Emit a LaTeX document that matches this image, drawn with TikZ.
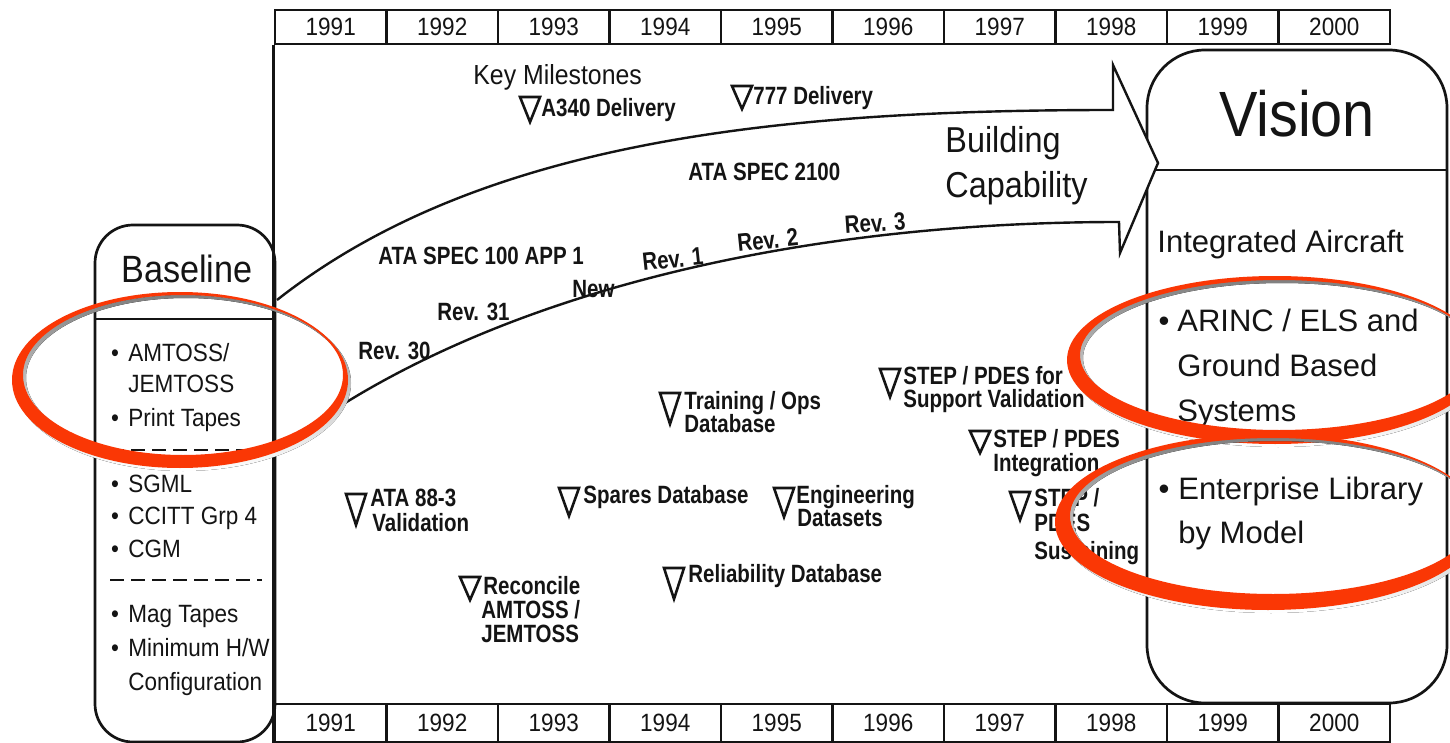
\documentclass[tikz,border=0pt]{standalone}
\usepackage{fontspec}
\setmainfont{Liberation Sans}
\newfontfamily\condA[FakeStretch=0.9]{Liberation Sans}
\newfontfamily\condB[FakeStretch=0.82]{Liberation Sans}
\definecolor{ink}{RGB}{20,20,20}
\definecolor{annot}{RGB}{250,55,5}
\definecolor{shade}{RGB}{175,175,175}
\newcommand\mtri[3]{\draw[tri] (#1-10,#2) -- (#1+10,#2) -- (#1,#2+#3) -- cycle;}
\begin{document}
\begin{tikzpicture}[x=0.5pt,y=-0.5pt,
  frame/.style={draw=ink, line width=1.35pt},
  yearcell/.style={draw=ink, line width=1.2pt, minimum width=55.75pt, inner sep=0pt, text=ink, font=\condA\fontsize{12.5}{14}\selectfont},
  lab/.style={anchor=base west, inner sep=0pt, text=ink, font=\condB\bfseries\fontsize{12.5}{14}\selectfont},
  basetxt/.style={anchor=base west, inner sep=0pt, text=ink, font=\condA\fontsize{12.5}{14}\selectfont},
  vistxt/.style={anchor=base west, inner sep=0pt, text=ink, font=\fontsize{15.5}{18}\selectfont},
  tri/.style={draw=ink, line width=1.3pt, line join=miter},
  sep/.style={draw=ink, line width=1pt, dash pattern=on 7pt off 3.5pt},
  arrowline/.style={draw=ink, line width=1.2pt, line join=miter},
]
\useasboundingbox (0,0) rectangle (1450,743);
\fill[white] (0,0) rectangle (1450,743);

% year bars
\foreach \yr [count=\i from 0] in {1991,...,2000} {
  \node[yearcell, minimum height=17pt] (top\yr) at (330.75+111.5*\i, 27) {\yr};
  \node[yearcell, minimum height=19pt] (bot\yr) at (330.75+111.5*\i, 723) {\yr};
}
% main frame left edge
\draw[frame] (top1991.south west) -- (bot1991.south west);

% baseline box
\node[frame, rounded corners=19pt, minimum width=90pt, minimum height=258.5pt, inner sep=0pt] (basebox) at (185,483.5) {};
\draw[frame] (95,319) -- (275,319);
\draw[sep] (110,450) -- (262,450);
\draw[sep] (110,580) -- (262,580);
\node[anchor=base, inner sep=0pt, text=ink, font=\condA\fontsize{19}{22}\selectfont] (basetitle) at (187,282) {Baseline};
\node[basetxt, anchor=base] (bb1) at (115,361) {•};
\node[basetxt] (bt1) at (128,361) {AMTOSS/};
\node[basetxt] (bt2) at (128,392) {JEMTOSS};
\node[basetxt, anchor=base] (bb3) at (115,426) {•};
\node[basetxt] (bt3) at (128,426) {Print Tapes};
\node[basetxt, anchor=base] (bb4) at (115,492) {•};
\node[basetxt] (bt4) at (128,492) {SGML};
\node[basetxt, anchor=base] (bb5) at (115,524) {•};
\node[basetxt] (bt5) at (128,524) {CCITT Grp 4};
\node[basetxt, anchor=base] (bb6) at (115,557) {•};
\node[basetxt] (bt6) at (128,557) {CGM};
\node[basetxt, anchor=base] (bb7) at (115,622) {•};
\node[basetxt] (bt7) at (128,622) {Mag Tapes};
\node[basetxt, anchor=base] (bb8) at (115,656) {•};
\node[basetxt] (bt8) at (128,656) {Minimum H/W};
\node[basetxt] (bt9) at (128,690) {Configuration};

% vision box
\node[frame, rounded corners=29pt, minimum width=150pt, minimum height=326.5pt, inner sep=0pt] (visbox) at (1297,376.5) {};
\draw[frame] (1147,170) -- (1447,170);

% building capability arrow
\fill[white] (277,300) .. controls (480,140) and (780,110) .. (1113,110) -- (1113,65) -- (1158,163) -- (1120,253) -- (1119,222) .. controls (780,222) and (470,300) .. (277,450) -- cycle;
\draw[arrowline] (277,300) .. controls (480,140) and (780,110) .. (1113,110) -- (1113,65) -- (1158,163) -- (1120,253) -- (1119,222) .. controls (780,222) and (470,300) .. (277,450);

\node[anchor=base, inner sep=0pt, text=ink, font=\condA\fontsize{32}{36}\selectfont] (vistitle) at (1297,137) {Vision};
\node[vistxt] (vt0) at (1157,253) {Integrated Aircraft};
\node[vistxt, anchor=base] (vb1) at (1164,331) {•};
\node[vistxt] (vt1) at (1177,331) {ARINC / ELS and};
\node[vistxt] (vt2) at (1177,376) {Ground Based};
\node[vistxt] (vt3) at (1177,421) {Systems};
\node[vistxt, anchor=base] (vb4) at (1164,499) {•};
\node[vistxt] (vt4) at (1178,499) {Enterprise Library};
\node[vistxt] (vt5) at (1178,543) {by Model};

\node[anchor=base west, inner sep=0pt, text=ink, font=\condA\fontsize{18}{22}\selectfont] (bc1) at (945,153) {Building};
\node[anchor=base west, inner sep=0pt, text=ink, font=\condA\fontsize{18}{22}\selectfont] (bc2) at (945,198) {Capability};

% key milestones
\node[basetxt, font=\condA\fontsize{13.8}{15}\selectfont] (kms) at (473,85) {Key Milestones};
\mtri{530}{97}{25}
\node[lab] (a340) at (541,117) {A340 Delivery};
\mtri{742}{86}{23}
\node[lab] (d777) at (753,105) {777 Delivery};

% arrow labels
\node[lab] (spec2100) at (688,181) {ATA SPEC 2100};
\node[lab] (spec100) at (378,264) {ATA SPEC 100 APP 1};
\node[lab] (rev31) at (437,321) {Rev. 31};
\node[lab] (rev30) at (358,359) {Rev. 30};
\node[lab] (new) at (572,297) {New};
\node[lab, rotate=6] (rev1) at (643,271) {Rev. 1};
\node[lab, rotate=6] (rev2) at (738,252) {Rev. 2};
\node[lab, rotate=4] (rev3) at (845,234) {Rev. 3};

% milestones
\mtri{670}{393}{31}
\node[lab] (train1) at (684,409) {Training / Ops};
\node[lab] (train2) at (684,432) {Database};
\mtri{890}{369}{28}
\node[lab] (stepa1) at (903,384) {STEP / PDES for};
\node[lab] (stepa2) at (903,407) {Support Validation};
\mtri{980}{431}{22}
\node[lab] (stepb1) at (993,447) {STEP / PDES};
\node[lab] (stepb2) at (993,471) {Integration};
\mtri{1020}{492}{28}
\node[lab] (stepc1) at (1034,506) {STEP /};
\node[lab] (stepc2) at (1034,531) {PDES};
\node[lab] (stepc3) at (1034,559) {Sustaining};
\mtri{356}{494}{31}
\node[lab] (ata1) at (370,506) {ATA 88-3};
\node[lab] (ata2) at (372,531) {Validation};
\mtri{569}{488}{28}
\node[lab] (spares) at (583,503) {Spares Database};
\mtri{784}{488}{29}
\node[lab] (eng1) at (796,503) {Engineering};
\node[lab] (eng2) at (797,526) {Datasets};
\mtri{470}{577}{23}
\node[lab] (rec1) at (483,594) {Reconcile};
\node[lab] (rec2) at (481,618) {AMTOSS /};
\node[lab] (rec3) at (481,642) {JEMTOSS};
\mtri{674}{568}{31}
\node[lab] (rel) at (688,582) {Reliability Database};

% red annotation ellipses
\begin{scope}
\clip (0,0) rectangle (1450,743);
\fill[shade, even odd rule] (183,383) ellipse [x radius=168, y radius=88] (186,378) ellipse [x radius=160, y radius=80];
\fill[annot, even odd rule] (180,380) ellipse [x radius=168, y radius=88] (183,375) ellipse [x radius=160, y radius=80];
\fill[shade, even odd rule] (1278,363) ellipse [x radius=208, y radius=84] (1282,358) ellipse [x radius=199, y radius=75];
\fill[annot, even odd rule] (1275,360) ellipse [x radius=208, y radius=84] (1279,355) ellipse [x radius=199, y radius=75];
\fill[shade, even odd rule] (1271,525) ellipse [x radius=213, y radius=88] (1276,519) ellipse [x radius=203, y radius=78];
\fill[annot, even odd rule] (1268,522) ellipse [x radius=213, y radius=88] (1273,516) ellipse [x radius=203, y radius=78];
\end{scope}
\end{tikzpicture}
\end{document}
